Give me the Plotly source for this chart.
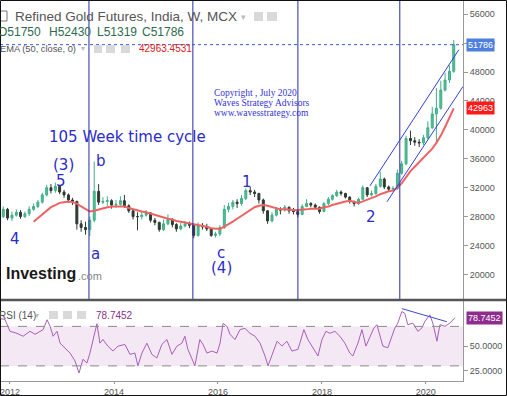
import plotly.graph_objects as go
import pandas as pd

# ---------------- data ----------------
month_start = "2011-10-01"   # first monthly candle (Oct 2011 .. Jul 2020)
closes = [28000, 29000, 27800, 28200, 28600, 28000, 28400, 29000, 29400, 30000,
          31000, 32000, 31600, 32200, 31400, 31000, 30300, 30100, 27000, 26500,
          26200, 27500, 31500, 30000, 30100, 30200, 29600, 29700, 30200, 29500,
          28800, 28000, 28000, 28200, 28500, 27500, 27200, 26200, 27000, 27600,
          26900, 26300, 26700, 27000, 26800, 25400, 26700, 26600, 26300, 25400,
          25600, 26500, 29000, 29400, 30000, 29800, 30500, 31600, 31400, 31200,
          30300, 28800, 27400, 28200, 29000, 28900, 29300, 28800, 28700, 28300,
          29400, 29800, 29600, 29300, 28700, 29800, 30400, 30900, 31400, 31200,
          30700, 30100, 29800, 30400, 32000, 31000, 31200, 32200, 33200, 32100,
          31800, 31900, 34000, 35300, 38800, 38500, 38300, 38200, 38900, 40300,
          42200, 43000, 45500, 46900, 48100, 51786]
first_open = 27500
highs = [28600, 29400, 29200, 28700, 29000, 28900, 28700, 29400, 29800, 30300,
         31300, 32400, 32500, 32700, 32300, 31700, 31200, 30600, 30200, 27500,
         27300, 28000, 35600, 32500, 30700, 30800, 30400, 30300, 30800, 31000,
         29700, 29000, 28600, 28800, 28900, 28600, 27800, 27300, 27600, 28300,
         27800, 27100, 27100, 27400, 27300, 26900, 27200, 27100, 27000, 26400,
         25900, 26800, 29600, 29900, 30300, 30400, 31000, 31900, 32100, 31700,
         31300, 30500, 28900, 28600, 29300, 29300, 29600, 29400, 29200, 28900,
         29700, 30400, 30000, 29800, 29400, 30000, 30700, 31100, 31700, 31600,
         31300, 30800, 30200, 30600, 32300, 32100, 31600, 32500, 34200, 33400,
         32300, 32200, 34500, 35700, 39200, 39900, 39000, 38700, 39300, 41200,
         43200, 45800, 46800, 47900, 48900, 52430]
lows = [27100, 27800, 27500, 27400, 28000, 27700, 27800, 28100, 28800, 29200,
        29800, 30800, 31200, 31300, 31100, 30600, 29900, 29600, 26200, 25900,
        25500, 25300, 27200, 29600, 29700, 29500, 29100, 29200, 29500, 29200,
        28500, 27600, 26100, 27600, 28000, 27200, 26800, 25900, 26000, 26800,
        26500, 25900, 26100, 26500, 26400, 25000, 25200, 26200, 26000, 25200,
        25100, 25300, 26300, 28600, 29000, 29200, 29500, 30300, 31000, 30700,
        29800, 28400, 27000, 27200, 28000, 28300, 28700, 28400, 28300, 27900,
        28200, 29300, 29300, 29000, 28400, 28600, 29600, 30200, 30700, 30900,
        30500, 29800, 29400, 29600, 30300, 30700, 30800, 31000, 32000, 31800,
        31500, 31500, 31700, 33800, 35100, 37900, 37800, 37600, 37900, 38700,
        40100, 38400, 42800, 45300, 46500, 47900]

ema_first_index = 8          # EMA(50) becomes visible from Jun 2012
ema_values = [27300, 27800, 28400, 28900, 29300, 29600, 29900, 30000, 30100, 30000,
              29800, 29400, 29000, 28700, 28800, 29000, 29200, 29300, 29400, 29400,
              29400, 29400, 29200, 29000, 28800, 28700, 28600, 28400, 28200, 28000,
              27900, 27700, 27600, 27400, 27300, 27200, 27000, 26900, 26800, 26700,
              26600, 26400, 26300, 26300, 26600, 26900, 27300, 27700, 28100, 28500,
              29000, 29300, 29500, 29600, 29500, 29300, 29100, 29000, 29000, 28900,
              28900, 28900, 28900, 29000, 29100, 29100, 29100, 29300, 29400, 29600,
              29800, 30000, 30100, 30200, 30000, 29900, 30100, 30300, 30500, 30800,
              31100, 31300, 31500, 31600, 32000, 32600, 33500, 34300, 34900, 35500,
              36100, 36700, 37400, 38200, 39200, 40400, 41600, 42963]

rsi_dates = ["2011-10-23", "2011-11-27", "2012-01-01", "2012-02-19", "2012-04-02",
             "2012-05-21", "2012-06-26", "2012-08-21", "2012-09-18", "2012-10-09",
             "2012-10-30", "2012-11-27", "2012-12-18", "2013-01-22", "2013-02-26",
             "2013-04-02", "2013-04-30", "2013-05-28", "2013-06-25", "2013-07-16",
             "2013-08-13", "2013-09-03", "2013-09-24", "2013-10-15", "2013-11-19",
             "2013-12-25", "2014-01-29", "2014-03-19", "2014-04-23", "2014-05-28",
             "2014-06-18", "2014-07-16", "2014-08-20", "2014-09-24", "2014-10-29",
             "2014-12-03", "2015-01-08", "2015-02-12", "2015-03-19", "2015-04-23",
             "2015-05-14", "2015-06-04", "2015-07-09", "2015-07-23", "2015-08-27",
             "2015-09-18", "2015-10-16", "2015-11-20", "2015-12-26", "2016-01-16",
             "2016-02-06", "2016-03-05", "2016-03-26", "2016-04-30", "2016-06-04",
             "2016-07-09", "2016-08-13", "2016-09-18", "2016-10-23", "2016-11-27",
             "2016-12-18", "2017-01-16", "2017-02-20", "2017-03-26", "2017-04-30",
             "2017-06-04", "2017-07-16", "2017-07-30", "2017-08-27", "2017-09-24",
             "2017-10-23", "2017-12-04", "2018-01-01", "2018-01-29", "2018-02-26",
             "2018-04-02", "2018-05-07", "2018-06-11", "2018-07-16", "2018-08-06",
             "2018-09-11", "2018-10-09", "2018-11-06", "2018-12-04", "2019-01-01",
             "2019-01-22", "2019-02-12", "2019-03-05", "2019-04-09", "2019-05-07",
             "2019-05-28", "2019-06-18", "2019-07-16", "2019-08-06", "2019-08-27",
             "2019-10-02", "2019-11-06", "2019-12-04", "2019-12-25", "2020-01-29",
             "2020-02-19", "2020-03-19", "2020-04-09", "2020-05-14", "2020-06-18",
             "2020-07-23"]
rsi_values = [78, 77, 65, 63, 60, 65, 62, 66.7, 76.7, 70,
              60, 65, 53, 48, 43, 35, 22.7, 36.7, 33, 43,
              60, 72.7, 53, 56.7, 50, 45, 50, 51.7, 41.7, 43,
              30, 43, 53, 41.7, 38, 51.7, 56.7, 41.7, 50, 53,
              60, 46.7, 35, 30, 56.7, 51.7, 43, 45, 43, 53,
              73, 70, 62, 56.7, 66.7, 68, 63, 60, 53, 40,
              30, 41.7, 55, 50, 55, 45, 46.7, 53, 66.7, 56.7,
              50, 40, 56.7, 65, 63, 65, 60, 53, 43, 40,
              53, 66.7, 50, 58.3, 68.3, 71.7, 60, 50, 48.3, 60,
              68.3, 73.3, 85, 83.3, 71.7, 73.3, 65, 68.3, 75, 81.7,
              73.3, 55, 71.7, 70, 73.3, 78.7452]

cycle_dates = ["2013-07-09", "2015-07-09", "2017-07-16", "2019-07-02"]
channel_upper = (["2018-12-04", "2020-08-20"], [32250, 51090])
channel_lower = (["2019-04-03", "2020-09-18"], [30050, 46000])
rsi_trend = (["2019-07-16", "2020-05-28"], [88, 74.7])

last_close = 51786
last_ema = 42963.4531
last_rsi = 78.7452
price_ticks = [20000, 24000, 28000, 32000, 36000, 40000, 44000, 48000, 52000, 56000]
year_ticks = ["2012", "2014", "2016", "2018", "2020"]

# ---------------- figure ----------------
months = pd.date_range(month_start, periods=len(closes), freq="MS") + pd.Timedelta(days=14)
opens = [first_open] + closes[:-1]

W, H = 507, 396
PW, PH = 463, 381  # plot area size (l=0, t=0)


def px(x):
    return x / PW


def py(y):
    return (PH - y) / PH


BLUE = "#2b2bc8"
fig = go.Figure()
fig.add_trace(go.Candlestick(
    x=months, open=opens, high=highs, low=lows, close=closes,
    increasing=dict(line=dict(color="#3fae86", width=1), fillcolor="#52c095"),
    decreasing=dict(line=dict(color="#2e3a30", width=1), fillcolor="#2e3a30"),
    whiskerwidth=0, xaxis="x", yaxis="y", hoverinfo="skip"))
fig.add_trace(go.Scatter(
    x=months[ema_first_index:], y=ema_values, mode="lines",
    line=dict(color="#ef6262", width=2), xaxis="x", yaxis="y", hoverinfo="skip"))
fig.add_trace(go.Scatter(
    x=pd.to_datetime(rsi_dates), y=rsi_values, mode="lines",
    line=dict(color="#a860b8", width=1), xaxis="x2", yaxis="y2", hoverinfo="skip"))

xrange = ["2011-10-23", "2020-09-18"]
fig.update_layout(
    width=W, height=H, margin=dict(l=0, r=W - PW, t=0, b=H - PH, autoexpand=False),
    paper_bgcolor="white", plot_bgcolor="white", showlegend=False,
    font=dict(family="Liberation Sans", size=9, color="#555"),
    xaxis=dict(domain=[0, 1], anchor="y", type="date", range=xrange,
               showticklabels=False, showgrid=False, zeroline=False,
               rangeslider=dict(visible=False)),
    xaxis2=dict(domain=[0, 1], anchor="y2", type="date", range=xrange,
                matches="x", showgrid=False, zeroline=False,
                tickvals=[pd.Timestamp(y + "-01-01") for y in year_ticks],
                ticktext=year_ticks, ticks="outside", ticklen=2, tickcolor="#999",
                ticklabeloverflow="allow",
                showline=True, linecolor="#999", linewidth=1,
                tickfont=dict(size=9, color="#555")),
    yaxis=dict(domain=[py(299), 1], anchor="x", side="right",
               range=[16600, 57966], tickvals=price_ticks,
               ticktext=[str(v) for v in price_ticks],
               ticks="outside", ticklen=4, tickcolor="#999",
               showline=True, linecolor="#999", showgrid=False, zeroline=False,
               tickfont=dict(size=9, color="#555")),
    yaxis2=dict(domain=[0, py(301)], anchor="x2", side="right",
                range=[14.7, 95.7], tickvals=[25, 50],
                ticktext=["25.0000", "50.0000"],
                ticks="outside", ticklen=4, tickcolor="#999",
                showline=True, linecolor="#999", showgrid=False, zeroline=False,
                tickfont=dict(size=9, color="#555")),
)

shapes = []
# RSI band and levels
shapes.append(dict(type="rect", xref="x2 domain", x0=0, x1=1, yref="y2", y0=30, y1=70,
                   fillcolor="#f3e8f3", line=dict(width=0), layer="below"))
for lvl in (30, 70):
    shapes.append(dict(type="line", xref="x2 domain", x0=0, x1=1, yref="y2", y0=lvl, y1=lvl,
                       line=dict(color="#8a8a8a", width=1, dash="dash")))
# cycle lines
for d in cycle_dates:
    shapes.append(dict(type="line", xref="x", x0=d, x1=d, yref="y domain", y0=0, y1=1,
                       line=dict(color="#2a2aa8", width=1)))
# last close dotted line
shapes.append(dict(type="line", xref="x domain", x0=0, x1=1, yref="y", y0=last_close, y1=last_close,
                   line=dict(color="#3a5ad0", width=1, dash="dot")))
# channel
for (xs, ys) in (channel_upper, channel_lower):
    shapes.append(dict(type="line", xref="x", x0=xs[0], x1=xs[1], yref="y", y0=ys[0], y1=ys[1],
                       line=dict(color="#2f3fd8", width=1)))
shapes.append(dict(type="line", xref="x2", x0=rsi_trend[0][0], x1=rsi_trend[0][1], yref="y2",
                   y0=rsi_trend[1][0], y1=rsi_trend[1][1], line=dict(color="#3a4ad8", width=1)))
# pane separator
shapes.append(dict(type="line", xref="paper", x0=0, x1=W / PW, yref="paper", y0=py(300), y1=py(300),
                   line=dict(color="#555", width=2.5)))
# header icon boxes
for (x0, x1, y0, y1) in [(254, 263, 12, 21), (267, 277, 12, 21),
                         (94, 102, 45, 53), (106, 115, 45, 53), (121, 130, 45, 53),
                         (49, 58, 311, 319), (63, 72, 311, 319), (77, 86, 311, 319)]:
    shapes.append(dict(type="rect", xref="paper", yref="paper", x0=px(x0), x1=px(x1),
                       y0=py(y1), y1=py(y0), fillcolor="#d9d9d9", line=dict(width=0)))
shapes.append(dict(type="rect", xref="paper", yref="paper", x0=px(0), x1=px(7),
                   y0=py(21), y1=py(11), line=dict(color="#777", width=1)))
# outer frame
shapes.append(dict(type="rect", xref="paper", yref="paper", x0=px(0.5), x1=px(W - 0.5),
                   y0=py(H - 0.5), y1=py(0.5), line=dict(color="#111", width=1)))
fig.update_layout(shapes=shapes)

ann = []


def text(x, y, s, size, color, family="Liberation Sans", anchor="left", bold=False):
    ann.append(dict(xref="paper", yref="paper", x=px(x), y=py(y), text=("<b>%s</b>" % s) if bold else s,
                    showarrow=False, xanchor=anchor, yanchor="middle",
                    font=dict(size=size, color=color, family=family)))


# headers
text(13, 16, "Refined Gold Futures, India, W, MCX", 13.5, "#555")
text(239, 17, "▾", 9, "#bbb")
for xx, s in [(-4, "O51750"), (47, "H52430"), (95, "L51319"), (140, "C51786")]:
    text(xx, 32, s, 12, "#2f6a50")
text(-2, 49, "EMA (50, close, 0)", 9.3, "#555")
text(79, 49, "▾", 8, "#bbb")
text(137, 49, "%.4f" % last_ema, 10, "#e02020")
text(-3, 315, "RSI (14)", 10, "#555")
text(33, 315, "▾", 8, "#bbb")
text(94, 315, "%.4f" % last_rsi, 10, "#8b2f8b")

# wave labels
D = "DejaVu Sans"
text(127, 137, "105 Week time cycle", 15, BLUE, D, "center")
text(63, 165, "(3)", 15, BLUE, D, "center")
text(61, 181, "5", 15, BLUE, D, "center")
text(101, 161, "b", 15, BLUE, D, "center")
text(15, 239, "4", 15, BLUE, D, "center")
text(95, 254, "a", 15, BLUE, D, "center")
text(221, 253, "c", 15, BLUE, D, "center")
text(221, 268, "(4)", 15, BLUE, D, "center")
text(247, 182, "1", 15, BLUE, D, "center")
text(371, 217, "2", 15, BLUE, D, "center")

# copyright
S = "Liberation Serif"
text(212, 93, "Copyright , July 2020", 9.5, "#3434d4", S)
text(212, 103, "Waves Strategy Advisors", 9.5, "#3434d4", S)
text(212, 113, "www.wavesstrategy.com", 9.5, "#3434d4", S)

# logo
text(4, 273, "Investing", 16, "#1a1a1a", bold=True)
text(76, 276, ".com", 11, "#888")

# price / indicator value boxes on the right axis
for yref, val, label, bg in [("y", last_close, str(last_close), "#4f7fdc"),
                             ("y", last_ema, str(int(last_ema)), "#ff1a1a"),
                             ("y2", last_rsi, "%.4f" % last_rsi, "#8e2d8e")]:
    ann.append(dict(xref="paper", yref=yref, x=px(466), y=val, text=label, showarrow=False,
                    xanchor="left", yanchor="middle", bgcolor=bg, borderpad=1,
                    font=dict(size=9, color="white", family="Liberation Sans")))

fig.update_layout(annotations=ann)
fig.write_html("out.html", config={"displayModeBar": False},
               post_script="document.body.style.margin='0px';")
